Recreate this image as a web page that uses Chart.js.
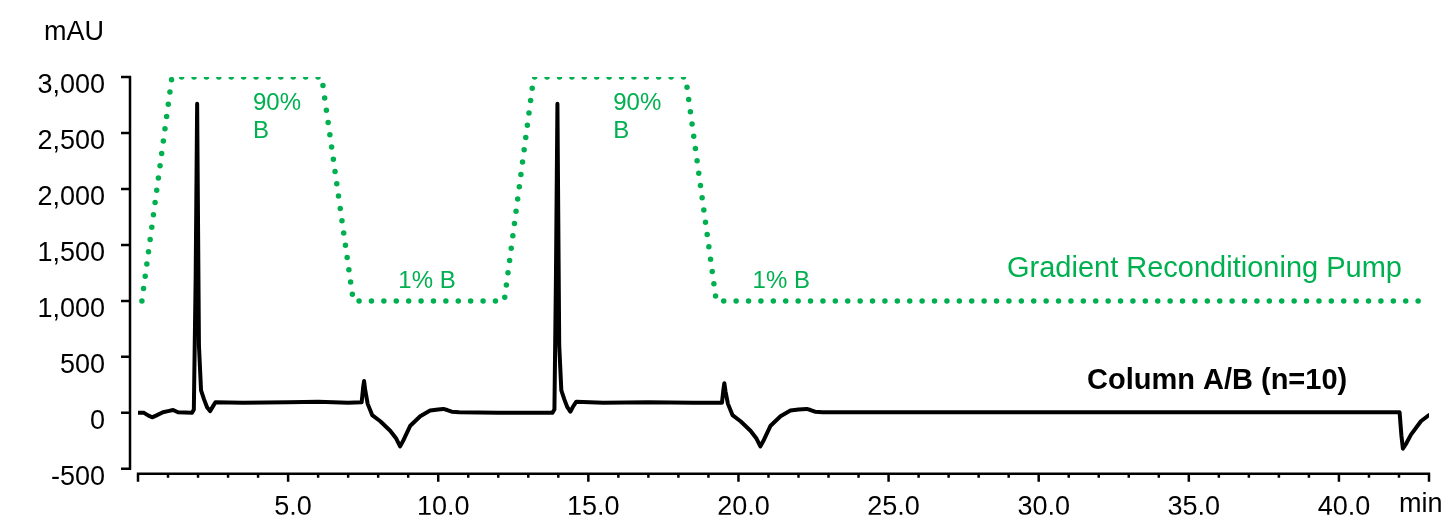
<!DOCTYPE html>
<html>
<head>
<meta charset="utf-8">
<style>
  html, body { margin: 0; padding: 0; background: #fff; }
  canvas { display: block; }
</style>
</head>
<body>
<canvas id="chart" width="1441" height="518"></canvas>
<script src="https://cdn.jsdelivr.net/npm/chart.js"></script>
<script>
  // gradient pump programme (plotted on the mAU scale)
  const gradTime  = [0.13, 1.13, 6.12, 7.17, 12.2, 13.18, 18.24, 19.26, 43.0];
  const gradLevel = [1000, 3000, 3000, 1000, 1000, 3000, 3000, 1000, 1000];

  // chromatogram, Column A/B
  const traceTime = [0, 0.2, 0.35, 0.47, 0.6, 0.83, 1.0, 1.17, 1.33, 1.8, 1.86, 1.92, 1.97, 2.03, 2.1, 2.2, 2.3, 2.4, 2.5, 2.58,
    3.5, 5.0, 6.0, 7.0, 7.45, 7.5, 7.53, 7.57, 7.65, 7.8, 8.07, 8.4, 8.6, 8.73, 8.85, 9.07, 9.4, 9.73, 10.0, 10.17, 10.3, 10.45, 10.7,
    12.0, 13.8, 13.87, 13.92, 13.97, 14.03, 14.1, 14.2, 14.3, 14.4, 14.5, 14.6, 15.5, 17.0, 18.5,
    19.45, 19.5, 19.53, 19.57, 19.65, 19.8, 20.07, 20.4, 20.6, 20.73, 20.85, 21.07, 21.4, 21.73, 22.0, 22.27, 22.4, 22.55, 22.8,
    30.0, 42.02, 42.08, 42.13, 42.25, 42.4, 42.73, 43.0];
  const traceMAU = [0, 0, -25, -40, -25, 5, 15, 25, 5, 0, 30, 1200, 2760, 600, 200, 120, 50, 15, 60, 95,
    90, 95, 100, 90, 95, 230, 285, 200, 80, -20, -75, -160, -230, -300, -240, -115, -30, 20, 30, 35, 25, 10, 5,
    0, 0, 30, 1200, 2760, 600, 200, 120, 50, 10, 60, 100, 90, 95, 90,
    90, 210, 265, 190, 80, -20, -75, -160, -230, -300, -240, -115, -30, 20, 30, 35, 25, 10, 5,
    5, 5, -200, -320, -270, -195, -75, -20];

  const xTicks = [5, 10, 15, 20, 25, 30, 35, 40];
  const yTicks = [-500, 0, 500, 1000, 1500, 2000, 2500, 3000];

  const GREEN = '#00B050';
  const FONT = 'Arial, "Liberation Sans", sans-serif';

  const pts = (xs, ys) => xs.map((x, i) => ({ x: x, y: ys[i] }));

  // axis lines, tick marks and free text
  const decor = {
    id: 'decor',
    afterDraw(chart) {
      const ctx = chart.ctx;
      const xs = chart.scales.x, ys = chart.scales.y;
      ctx.save();
      ctx.strokeStyle = '#000';
      ctx.lineWidth = 2.5;
      ctx.lineCap = 'butt';

      // y axis, set off to the left
      const ax = xs.left - 8;
      ctx.beginPath();
      ctx.moveTo(ax, ys.getPixelForValue(3000));
      ctx.lineTo(ax, ys.getPixelForValue(-500));
      yTicks.forEach(v => {
        const py = ys.getPixelForValue(v);
        ctx.moveTo(ax - 9, py);
        ctx.lineTo(ax + 1.2, py);
      });
      ctx.stroke();

      // x axis, set off below
      const ay = ys.bottom + 5;
      ctx.beginPath();
      ctx.moveTo(xs.getPixelForValue(0) - 1.2, ay);
      ctx.lineTo(xs.getPixelForValue(43) + 1.2, ay);
      for (let m = 0; m <= 43; m++) {
        const px = xs.getPixelForValue(m);
        const len = (m % 5 === 0 || m === 43) ? 8 : 4;
        ctx.moveTo(px, ay);
        ctx.lineTo(px, ay + len);
      }
      ctx.stroke();

      // axis titles
      ctx.fillStyle = '#000';
      ctx.font = '27px ' + FONT;
      ctx.textBaseline = 'middle';
      ctx.textAlign = 'center';
      ctx.fillText('mAU', 74, 33);
      ctx.textAlign = 'left';
      ctx.fillText('min', 1399, 505);

      // green annotations
      ctx.fillStyle = GREEN;
      ctx.textBaseline = 'alphabetic';
      ctx.font = '24px ' + FONT;
      [3.83, 15.83].forEach(t => {
        const px = xs.getPixelForValue(t);
        ctx.fillText('90%', px, 110);
        ctx.fillText('B', px, 138);
      });
      [8.67, 20.47].forEach(t => {
        ctx.fillText('1% B', xs.getPixelForValue(t), 288);
      });
      ctx.font = '29px ' + FONT;
      ctx.fillText('Gradient Reconditioning Pump', 1007, 277);

      ctx.fillStyle = '#000';
      ctx.font = 'bold 29px ' + FONT;
      ctx.fillText('Column A/B (n=10)', 1087, 389);
      ctx.restore();
    }
  };

  new Chart(document.getElementById('chart'), {
    type: 'scatter',
    data: {
      datasets: [
        {
          label: 'Column A/B (n=10)',
          data: pts(traceTime, traceMAU),
          showLine: true,
          borderColor: '#000',
          borderWidth: 4,
          borderJoinStyle: 'round',
          borderCapStyle: 'round',
          pointRadius: 0,
          tension: 0
        },
        {
          label: 'Gradient Reconditioning Pump',
          data: pts(gradTime, gradLevel),
          showLine: true,
          borderColor: GREEN,
          borderWidth: 5.5,
          borderDash: [0, 12.4],
          borderCapStyle: 'round',
          pointRadius: 0,
          tension: 0
        }
      ]
    },
    options: {
      responsive: false,
      animation: false,
      layout: { padding: { left: 0, top: 77, right: 12, bottom: 0 } },
      plugins: { legend: { display: false }, tooltip: { enabled: false } },
      scales: {
        x: {
          type: 'linear',
          min: 0,
          max: 43,
          grid: { display: false, drawTicks: false },
          border: { display: false },
          afterBuildTicks: s => { s.ticks = xTicks.map(v => ({ value: v })); },
          afterFit: s => { s.height = 46; },
          ticks: {
            color: '#000',
            font: { family: FONT, size: 27 },
            padding: 23,
            labelOffset: 5,
            maxRotation: 0,
            autoSkip: false,
            callback: v => v.toFixed(1)
          }
        },
        y: {
          min: -500,
          max: 3000,
          grid: { display: false, drawTicks: false },
          border: { display: false },
          afterBuildTicks: s => { s.ticks = yTicks.map(v => ({ value: v })); },
          afterFit: s => { s.width = 138; },
          ticks: {
            color: '#000',
            font: { family: FONT, size: 27 },
            padding: 33,
            labelOffset: 9,
            callback: v => v.toLocaleString('en-US')
          }
        }
      }
    },
    plugins: [decor]
  });
</script>
</body>
</html>
